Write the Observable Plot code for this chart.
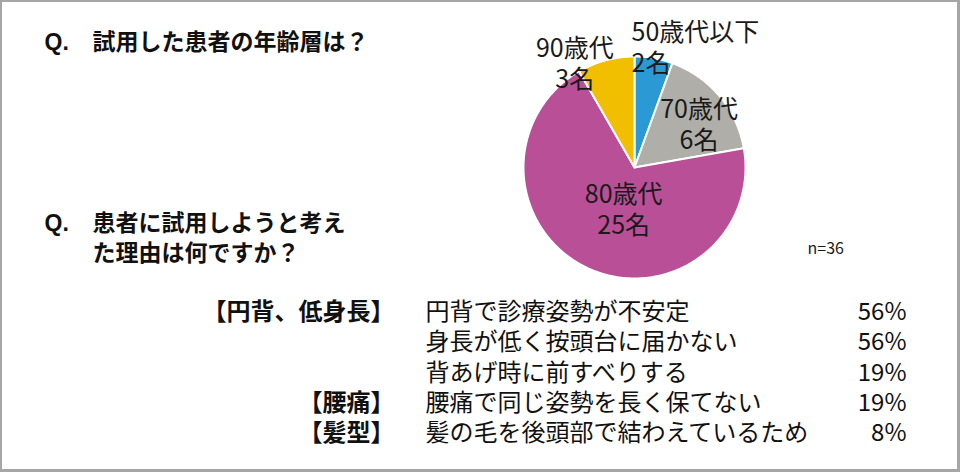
<!DOCTYPE html>
<html><head><meta charset="utf-8">
<script src="https://cdn.jsdelivr.net/npm/d3@7"></script>
<script src="https://cdn.jsdelivr.net/npm/@observablehq/plot@0.6"></script>
<style>
html,body{margin:0;padding:0;background:#fff;}
#wrap{position:relative;width:960px;height:472px;overflow:hidden;}
#frame{position:absolute;left:0;top:0;width:960px;height:472px;box-sizing:border-box;
  border-left:2px solid #a6a6a6;border-top:2px solid #a6a6a6;border-right:3px solid #a6a6a6;border-bottom:3px solid #a6a6a6;pointer-events:none;}
</style>
</head><body>
<div id="wrap"><div id="frame"></div></div>
<script>
// ---- data ----
const questions = ["試用した患者の年齢層は？", "患者に試用しようと考え", "た理由は何ですか？"];
const questionMark = "Q.";
const ageGroups = ["50歳代以下", "70歳代", "80歳代", "90歳代"];
const ageCounts = [2, 6, 25, 3];
const ageColors = ["#2b9ad4", "#b0aea9", "#b94f96", "#f2bf00"];
const sampleNote = "n=36";
const reasonCategories = ["【円背、低身長】", "", "", "【腰痛】", "【髪型】"];
const reasons = ["円背で診療姿勢が不安定", "身長が低く按頭台に届かない", "背あげ時に前すべりする", "腰痛で同じ姿勢を長く保てない", "髪の毛を後頭部で結わえているため"];
const reasonPercents = [56, 56, 19, 19, 8];

// ---- layout ----
const W = 960, H = 472;
const pie = {cx: 634, cy: 167, r: 111};
const pieLabelLayout = [
  {rho: 121, dx: -24, anchor: "start"},
  {rho: 66, dx: 14, anchor: "middle"},
  {rho: 47, dx: 9, anchor: "middle"},
  {rho: 107, dx: -32, anchor: "middle"}
];
const pieLineGap = 31;
const table = {top: 312, step: 30.3, catX: 394, reasonX: 425, pctX: 906};
const font = "'Noto Sans CJK JP','Noto Sans',sans-serif";

// ---- pie geometry from data ----
const arcs = d3.pie().sort(null).value(d => d)(ageCounts);
const polyPts = [];
arcs.forEach((a, i) => {
  polyPts.push({g: ageGroups[i], x: pie.cx, y: pie.cy});
  const n = Math.max(2, Math.ceil((a.endAngle - a.startAngle) / (Math.PI / 180)));
  for (let k = 0; k <= n; k++) {
    const t = a.startAngle + (a.endAngle - a.startAngle) * k / n;
    polyPts.push({g: ageGroups[i], x: pie.cx + pie.r * Math.sin(t), y: pie.cy - pie.r * Math.cos(t)});
  }
});
const pieLabels = [];
arcs.forEach((a, i) => {
  const m = (a.startAngle + a.endAngle) / 2, L = pieLabelLayout[i];
  const x = pie.cx + L.rho * Math.sin(m) + L.dx, y = pie.cy - L.rho * Math.cos(m);
  pieLabels.push({text: ageGroups[i], x, y: y - pieLineGap / 2, anchor: L.anchor});
  pieLabels.push({text: ageCounts[i] + "名", x, y: y + pieLineGap / 2, anchor: L.anchor});
});

const rows = reasons.map((r, i) => ({cat: reasonCategories[i], reason: r, pct: reasonPercents[i] + "%", y: table.top + i * table.step}));
const qMarks = [{y: 42}, {y: 223}];
const qRows = [{text: questions[0], y: 42}, {text: questions[1], y: 223}, {text: questions[2], y: 253}];

const chart = Plot.plot({
  width: W, height: H,
  marginTop: 0, marginRight: 0, marginBottom: 0, marginLeft: 0,
  x: {domain: [0, W], range: [0, W], axis: null},
  y: {domain: [0, H], range: [0, H], axis: null},
  color: {domain: ageGroups, range: ageColors},
  style: {fontFamily: font, background: "white", overflow: "visible"},
  marks: [
    Plot.line(polyPts, {x: "x", y: "y", z: "g", fill: "g", stroke: "white", strokeWidth: 2, curve: "linear-closed"}),
    Plot.text(pieLabels.filter(d => d.anchor === "start"), {x: "x", y: "y", text: "text", textAnchor: "start", fontSize: 25, fill: "#1a1a1a"}),
    Plot.text(pieLabels.filter(d => d.anchor === "middle"), {x: "x", y: "y", text: "text", textAnchor: "middle", fontSize: 25, fill: "#1a1a1a"}),
    Plot.text([sampleNote], {x: 807, y: 248, text: d => d, textAnchor: "start", fontSize: 16, fill: "#1a1a1a"}),
    Plot.text(qMarks, {x: 44, y: "y", text: () => questionMark, textAnchor: "start", fontSize: 23, fontWeight: "bold", fill: "#111", fontFamily: "'Liberation Sans',Arial,sans-serif"}),
    Plot.text(qRows, {x: 92, y: "y", text: "text", textAnchor: "start", fontSize: 23, fontWeight: "bold", fill: "#111"}),
    Plot.text(rows, {x: table.catX, y: "y", text: "cat", textAnchor: "end", fontSize: 24, fontWeight: "bold", fill: "#111"}),
    Plot.text(rows, {x: table.reasonX, y: "y", text: "reason", textAnchor: "start", fontSize: 24, fill: "#111", ariaLabel: "reasons"}),
    Plot.text(rows, {x: table.pctX, y: "y", text: "pct", textAnchor: "end", fontSize: 24, fill: "#111"})
  ]
});
document.getElementById("wrap").insertBefore(chart, document.getElementById("frame"));
d3.select(chart).selectAll('[aria-label="reasons"] text').style("letter-spacing", "2px");
</script>
</body></html>
